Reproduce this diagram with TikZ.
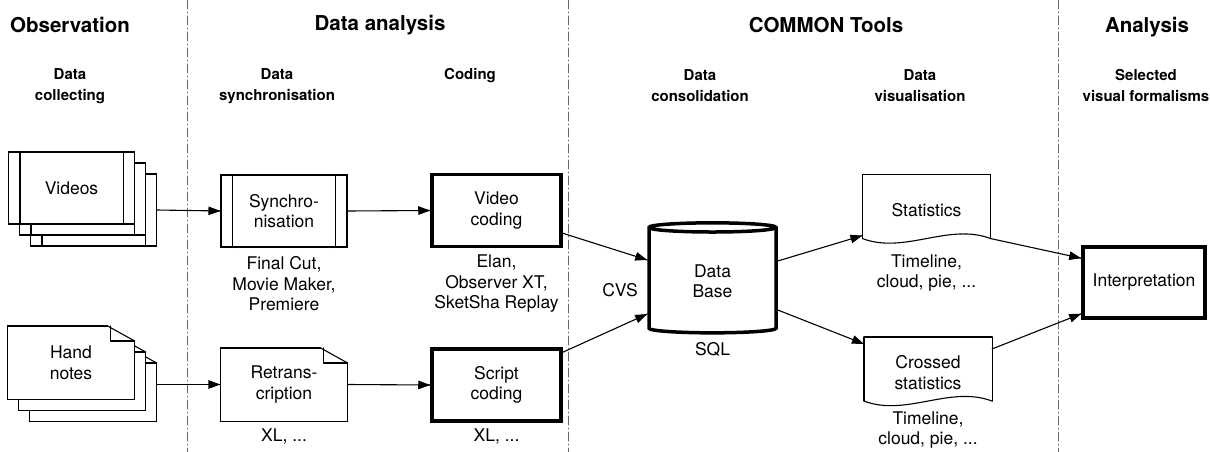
\documentclass[tikz,border=0pt]{standalone}
\usepackage{fontspec}
\setmainfont{TeX Gyre Heros}
\tikzset{->/.style = {decoration={markings, mark=at position 1 with {\arrow{Triangle[length=12pt,width=8.5pt]}}}, postaction={decorate}}}
\usetikzlibrary{calc,arrows.meta,shapes.geometric,
                 decorations.markings}
\tikzset{head/.style = {font=\fontsize{20.5}{24}\selectfont\bfseries}}
\tikzset{subhead/.style = {font=\fontsize{15}{21}\selectfont\bfseries, align=center, inner sep=0pt}}
\tikzset{txt/.style = {font=\fontsize{17.5}{20.5}\selectfont, align=center, inner sep=0pt}}
\tikzset{colsep/.style = {draw=black!60, line width=1pt, dash pattern=on 9pt off 3pt on 1pt off 3pt}}
\tikzset{box/.style = {txt, draw, fill=white, minimum width=126pt, minimum height=72pt}}
\tikzset{thickbox/.style = {box, line width=3.5pt, minimum width=129pt}}
\tikzset{proc/.style = {box, append after command={
      ([xshift=12pt]\tikzlastnode.north west) edge ([xshift=12pt]\tikzlastnode.south west)
      ([xshift=-12pt]\tikzlastnode.north east) edge ([xshift=-12pt]\tikzlastnode.south east)}}}
\tikzset{note/.style = {txt, fill=white, minimum width=126pt, minimum height=72pt, append after command={
      (\tikzlastnode.south west) edge (\tikzlastnode.north west)
      (\tikzlastnode.north west) edge ([xshift=-27pt]\tikzlastnode.north east)
      ([xshift=-27pt]\tikzlastnode.north east) edge ([yshift=-15pt]\tikzlastnode.north east)
      ([yshift=-15pt]\tikzlastnode.north east) edge (\tikzlastnode.south east)
      (\tikzlastnode.south east) edge (\tikzlastnode.south west)
      ([xshift=-24pt]\tikzlastnode.north east) edge ([xshift=-24pt,yshift=-15pt]\tikzlastnode.north east)
      ([xshift=-24pt,yshift=-15pt]\tikzlastnode.north east) edge ([yshift=-15pt]\tikzlastnode.north east)}}}
\tikzset{doc/.style = {txt, minimum width=127pt, minimum height=70pt, append after command={
      (\tikzlastnode.north west) edge (\tikzlastnode.north east)
      (\tikzlastnode.north east) edge ([yshift=7pt]\tikzlastnode.south east)
      (\tikzlastnode.north west) edge ([yshift=7pt]\tikzlastnode.south west)
      ([yshift=7pt]\tikzlastnode.south west) edge[to path={.. controls ($(\tikztostart)+(42,16)$) and ($(\tikztotarget)+(-42,-16)$) .. (\tikztotarget)}] ([yshift=7pt]\tikzlastnode.south east)}}}
\tikzset{base/.style = {txt, draw, cylinder, shape border rotate=90, aspect=0.23, line width=3.5pt, minimum width=127pt, minimum height=110pt}}

\begin{document}
\begin{tikzpicture}[x=1pt, y=-1pt, line width=1.1pt, line cap=round]
      \useasboundingbox (0,0) rectangle (1210,452);
      % column separators
      \draw [colsep] (187,0) -- (187,452);
      \draw [colsep] (568,0) -- (568,452);
      \draw [colsep] (1058,0) -- (1058,452);
      % headings
      \node [head] (hobs) at (70,25) {Observation};
      \node [head] (hana) at (380,25) {Data analysis};
      \node [head] (htools) at (826,25) {COMMON Tools};
      \node [head] (hint) at (1147,27) {Analysis};
      \node [subhead] (scol) at (70,86) {Data\\collecting};
      \node [subhead] (ssync) at (277,86) {Data\\synchronisation};
      \node [subhead] (scod) at (470,76) {Coding};
      \node [subhead] (scons) at (700,86) {Data\\consolidation};
      \node [subhead] (svis) at (920,86) {Data\\visualisation};
      \node [subhead] (ssel) at (1146,86) {Selected\\visual formalisms};
      % observation
      \node [proc] (vid3) at (93.5,210) {};
      \node [proc] (vid2) at (82.5,199) {};
      \node [proc] (vid) at (71.5,188) {Videos};
      \node [note] (hn3) at (93,384.5) {};
      \node [note] (hn2) at (82,373.5) {};
      \node [note] (hn) at (71,362.5) {Hand\\notes};
      % data analysis
      \node [proc] (sync) at (284,211) {Synchro-\\nisation};
      \node [txt] (synctools) at (284,284) {Final Cut,\\Movie Maker,\\Premiere};
      \node [note] (retr) at (284,384.5) {Retrans-\\cription};
      \node [txt] (retrtools) at (284,436) {XL, ...};
      \node [thickbox] (vcod) at (496.5,210.5) {Video\\coding};
      \node [txt] (vcodtools) at (496.5,284) {Elan,\\Observer XT,\\SketSha Replay};
      \node [thickbox] (scod) at (496.5,385) {Script\\coding};
      \node [txt] (scodtools) at (496.5,436) {XL, ...};
      % common tools
      \node [base] (db) at (712.5,281) {Data\\Base};
      \node [txt] (sql) at (712.5,349) {SQL};
      \node [txt] (cvs) at (620,290) {CVS};
      \node [doc] (stat) at (926.5,210) {Statistics};
      \node [txt] (stattools) at (926.5,273) {Timeline,\\cloud, pie, ...};
      \node [doc] (cst) at (928,372.5) {Crossed\\statistics};
      \node [txt] (csttools) at (928,430) {Timeline,\\cloud, pie, ...};
      % analysis
      \node [thickbox, minimum width=122pt, minimum height=71pt] (int) at (1144,282.5) {Interpretation};
      % flows
      \draw [->] (vid3.east) -- (sync.west);
      \draw [->] (sync.east) -- (vcod.west);
      \draw [->] (hn3.east) -- (retr.west);
      \draw [->] (retr.east) -- (scod.west);
      \draw [->] ([yshift=15pt]vcod.south east) -- ([yshift=21pt]db.west);
      \draw [->] ([yshift=-5pt]scod.north east) -- ([yshift=-33pt]db.west);
      \draw [->] ([yshift=20pt]db.east) -- ([yshift=10pt]stat.south west);
      \draw [->] ([yshift=-29pt]db.east) -- ([yshift=-7pt]cst.north west);
      \draw [->] ([yshift=7pt]stat.south east) -- ([yshift=-13pt]int.north west);
      \draw [->] ([yshift=-12pt]cst.north east) -- ([yshift=6pt]int.south west);
    \end{tikzpicture}
\end{document}
